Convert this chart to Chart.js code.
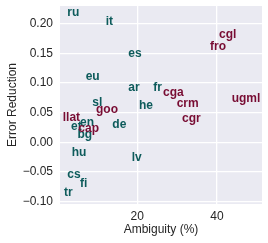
<!DOCTYPE html>
<html>
<head>
<meta charset="utf-8">
<script src="https://cdn.jsdelivr.net/npm/chart.js@4/dist/chart.umd.min.js"></script>
<style>
html,body{margin:0;padding:0;background:#fff;}
#wrap{width:268px;height:243px;position:relative;}
</style>
</head>
<body>
<div id="wrap"><canvas id="c" width="268" height="243"></canvas></div>
<script>
const tealLabels = ["ru","it","es","eu","ar","fr","he","sl","et","en","de","bg","hu","lv","cs","fi","tr"];
const tealX = [2.43,12.07,17.74,7.05,17.74,24.01,20.43,8.71,3.36,5.62,13.73,4.99,3.54,18.59,2.43,5.62,1.61];
const tealY = [0.2126,0.1975,0.1431,0.1049,0.0869,0.0869,0.0556,0.0616,0.0207,0.0269,0.0246,0.0072,-0.0231,-0.0310,-0.0606,-0.0747,-0.0904];

const maroonLabels = ["cgl","fro","cga","crm","ugml","cgr","goo","llat","cap"];
const maroonX = [40.50,38.24,26.45,29.89,43.69,31.22,9.64,1.28,5.19];
const maroonY = [0.1751,0.1559,0.0774,0.0589,0.0678,0.0347,0.0498,0.0359,0.0178];

const xTicks = [20,40];
const yTicks = [-0.10,-0.05,0.00,0.05,0.10,0.15,0.20];

const TEAL = '#0d5b5b';
const MAROON = '#780c33';
const FONT = '"Liberation Sans", Arial, sans-serif';

function pts(xs, ys){ return xs.map((x,i)=>({x:x, y:ys[i]})); }

const bgPlugin = {
  id:'bg',
  beforeDraw(chart){
    const {ctx, chartArea:a} = chart;
    ctx.save();
    ctx.fillStyle = '#EAEAF2';
    ctx.fillRect(a.left, a.top, a.right-a.left, a.bottom-a.top);
    ctx.restore();
  }
};

const textPlugin = {
  id:'texts',
  afterDatasetsDraw(chart){
    const ctx = chart.ctx;
    ctx.save();
    ctx.font = 'bold 12px ' + FONT;
    ctx.textAlign = 'left';
    ctx.textBaseline = 'alphabetic';
    chart.data.datasets.forEach((ds, di)=>{
      const meta = chart.getDatasetMeta(di);
      ctx.fillStyle = ds.textColor;
      meta.data.forEach((el,i)=>{
        ctx.fillText(ds.words[i], el.x, el.y);
      });
    });
    ctx.restore();
  }
};

new Chart(document.getElementById('c'), {
  type:'scatter',
  data:{
    datasets:[
      {data:pts(tealX,tealY), words:tealLabels, textColor:TEAL, pointRadius:0, pointHoverRadius:0},
      {data:pts(maroonX,maroonY), words:maroonLabels, textColor:MAROON, pointRadius:0, pointHoverRadius:0}
    ]
  },
  options:{
    responsive:false,
    animation:false,
    events:[],
    layout:{padding:{top:6,right:6,left:0,bottom:0}},
    plugins:{legend:{display:false}, tooltip:{enabled:false}},
    scales:{
      x:{
        type:'linear', min:0.6, max:51.3,
        afterBuildTicks(s){ s.ticks = xTicks.map(v=>({value:v})); },
        afterFit(s){ s.height = 39; s.paddingLeft = 0; s.paddingRight = 0; },
        grid:{color:'#ffffff', lineWidth:1.3, drawTicks:false},
        border:{display:false},
        ticks:{padding:5, color:'#262626', font:{family:FONT, size:12}, callback:(v)=>String(v)},
        title:{display:true, text:'Ambiguity (%)', color:'#262626', font:{family:FONT, size:12}, padding:{top:0,bottom:6}}
      },
      y:{
        type:'linear', min:-0.104, max:0.2295,
        afterBuildTicks(s){ s.ticks = yTicks.map(v=>({value:v})); },
        afterFit(s){ s.width = 60; s.paddingTop = 0; s.paddingBottom = 0; },
        grid:{color:'#ffffff', lineWidth:1.3, drawTicks:false},
        border:{display:false},
        ticks:{padding:7, color:'#262626', font:{family:FONT, size:12},
          callback:(v)=>{ const s = Math.abs(v).toFixed(2); return (v < -1e-9 ? '\u2212' : '') + s; }},
        title:{display:true, text:'Error Reduction', color:'#262626', font:{family:FONT, size:12}, padding:{top:5,bottom:0}}
      }
    }
  },
  plugins:[bgPlugin, textPlugin]
});
</script>
</body>
</html>
